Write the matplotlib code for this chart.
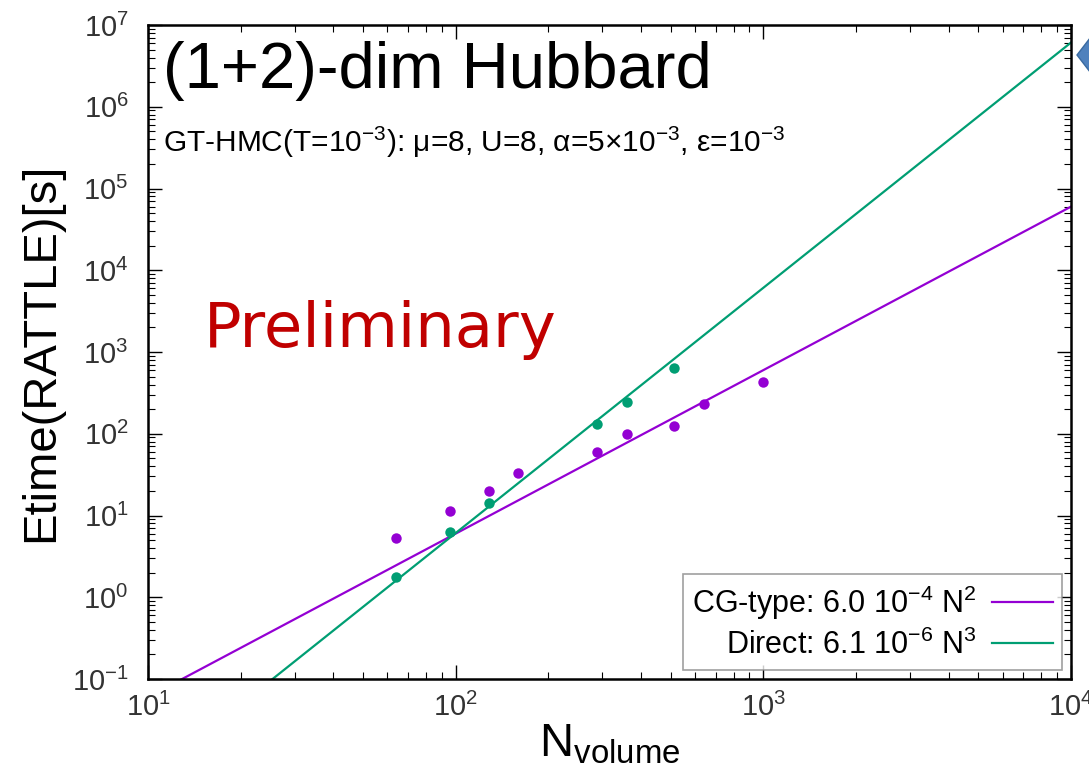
import numpy as np
import matplotlib.pyplot as plt
from matplotlib.patches import Polygon

plt.rcParams['font.family'] = ['Liberation Sans', 'DejaVu Sans']
plt.rcParams['mathtext.fontset'] = 'custom'
plt.rcParams['mathtext.rm'] = 'Liberation Sans'
plt.rcParams['mathtext.it'] = 'Liberation Sans'
plt.rcParams['mathtext.bf'] = 'Liberation Sans'

# measured points
cg_n = [64, 96, 128, 160, 288, 360, 512, 640, 1000]
cg_t = [5.35, 11.4, 20.0, 33.0, 59.3, 98.4, 124.0, 231.0, 430.0]
direct_n = [64, 96, 128, 288, 360, 512]
direct_t = [1.75, 6.34, 14.3, 131.6, 247.0, 643.0]

# fit lines  t = c * N^p
cg_coef, cg_pow = 6.0e-4, 2
direct_coef, direct_pow = 6.1e-6, 3

purple = '#9400d3'
green = '#009e73'

fig = plt.figure(figsize=(10.89, 7.72), dpi=100)
ax = fig.add_axes([148 / 1089, 93 / 772, 923 / 1089, 654 / 772])

n_fit = np.logspace(1, 4, 200)
ax.plot(n_fit, cg_coef * n_fit ** cg_pow, color=purple, lw=1.6,
        label=r'CG-type: 6.0 10$^{-4}$ N$^{2}$')
ax.plot(n_fit, direct_coef * n_fit ** direct_pow, color=green, lw=1.6,
        label=r'Direct: 6.1 10$^{-6}$ N$^{3}$')
ax.plot(cg_n, cg_t, 'o', color=purple, ms=7.5, mec='none')
ax.plot(direct_n, direct_t, 'o', color=green, ms=7.5, mec='none')

ax.set_xscale('log')
ax.set_yscale('log')
ax.set_xlim(10, 1e4)
ax.set_ylim(0.1, 1e7)
ax.set_xticks([10, 100, 1000, 10000])
ax.set_yticks([10.0 ** k for k in range(-1, 8)])

ax.tick_params(which='both', direction='in', top=True, right=True, colors='black')
ax.tick_params(which='major', length=10, width=1.0, labelsize=21, pad=10)
ax.tick_params(axis='y', which='major', pad=14)
ax.tick_params(which='minor', length=5, width=0.8)
for sp in ax.spines.values():
    sp.set_linewidth(1.8)
for lab in ax.get_xticklabels() + ax.get_yticklabels():
    lab.set_color('#333333')

ax.set_ylabel('Etime(RATTLE)[s]', fontsize=34, labelpad=6)
ax.set_xlabel(r'N$_{\rm volume}$', fontsize=34, labelpad=0)

ax.text(0.016, 0.904, '(1+2)-dim Hubbard', transform=ax.transAxes,
        fontsize=47, va='baseline', ha='left')
ax.text(0.016, 0.806,
        r'GT-HMC(T=10$^{-3}$): $\mu$=8, U=8, $\alpha$=5$\times$10$^{-3}$, $\epsilon$=10$^{-3}$',
        transform=ax.transAxes, fontsize=21.5, va='baseline', ha='left')
ax.text(0.06, 0.508, 'Preliminary', transform=ax.transAxes, fontsize=45,
        color='#c00000', family='DejaVu Sans', va='baseline', ha='left')

leg = ax.legend(loc='lower right', markerfirst=False, fontsize=22,
                frameon=True, fancybox=False, handlelength=2.0,
                borderaxespad=0.3, labelspacing=0.25, handletextpad=0.5,
                borderpad=0.3)
leg.get_frame().set_edgecolor('#888888')
leg.get_frame().set_linewidth(1.2)
for t in leg.get_texts():
    t.set_ha('right')
leg._legend_box.align = 'right'

# blue diamond of the slide, cut at the right edge
fig.patches.append(Polygon([(1077 / 1089, 717 / 772), (1097 / 1089, 743 / 772),
                            (1117 / 1089, 717 / 772), (1097 / 1089, 691 / 772)],
                           closed=True, transform=fig.transFigure,
                           facecolor='#4f81bd', edgecolor='#3a6aa0', lw=1))

fig.savefig('out.png', dpi=100)
